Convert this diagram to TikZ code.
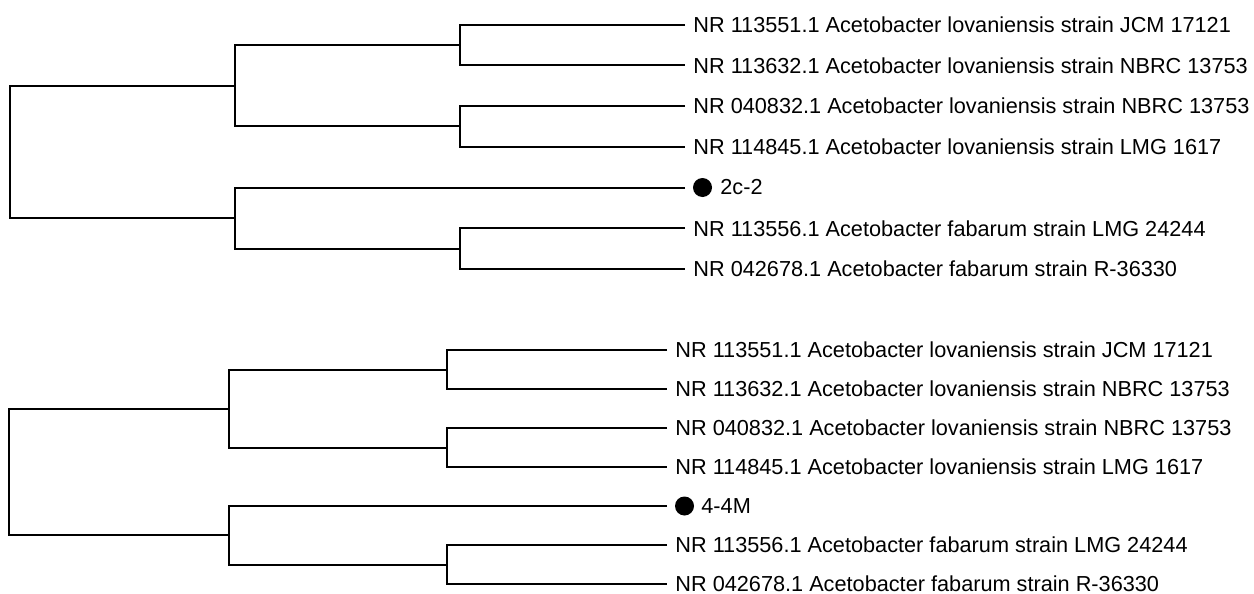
\documentclass[tikz,border=0pt]{standalone}
\usepackage{fontspec}
\setmainfont{Liberation Sans}
\begin{document}
\begin{tikzpicture}[x=0.5pt,y=-0.5pt,
  branch/.style={draw=black, line width=1pt, line join=miter},
  leaf/.style={anchor=west, inner xsep=4pt, inner ysep=0pt, font=\fontsize{10.85}{13}\selectfont},
  dotnode/.style={circle, fill=black, draw=none, minimum size=9.5pt, inner sep=0pt, outer sep=4pt, anchor=west},
  dotlabel/.style={anchor=west, inner sep=0pt, font=\fontsize{10.85}{13}\selectfont}]
\useasboundingbox (0,0) rectangle (1254,594);

% ---------- top tree ----------
\node[leaf] (t1) at (685,24.5) {NR 113551.1 Acetobacter lovaniensis strain JCM 17121};
\node[leaf] (t2) at (685,65.25) {NR 113632.1 Acetobacter lovaniensis strain NBRC 13753};
\node[leaf] (t3) at (685,106) {NR 040832.1 Acetobacter lovaniensis strain NBRC 13753};
\node[leaf] (t4) at (685,146.75) {NR 114845.1 Acetobacter lovaniensis strain LMG 1617};
\node[dotnode] (t5) at (685,187.5) {};
\node[dotlabel] (t5l) at (720,187.5) {2c-2};
\node[leaf] (t6) at (685,228.25) {NR 113556.1 Acetobacter fabarum strain LMG 24244};
\node[leaf] (t7) at (685,269) {NR 042678.1 Acetobacter fabarum strain R-36330};

\coordinate (tp1) at (460,44.875);
\coordinate (tp2) at (460,126.375);
\coordinate (tp3) at (460,248.625);
\coordinate (tc1) at (235,85.625);
\coordinate (tc2) at (235,218.0625);
\coordinate (tr) at (10,151.84);

\draw[branch] (t1.west) -| (tp1) |- (t2.west);
\draw[branch] (t3.west) -| (tp2) |- (t4.west);
\draw[branch] (t6.west) -| (tp3) |- (t7.west);
\draw[branch] (tp1) -| (tc1) |- (tp2);
\draw[branch] (t5.west) -| (tc2) |- (tp3);
\draw[branch] (tc1) -| (tr) |- (tc2);

% ---------- bottom tree ----------
\node[leaf] (b1) at (667,350) {NR 113551.1 Acetobacter lovaniensis strain JCM 17121};
\node[leaf] (b2) at (667,389) {NR 113632.1 Acetobacter lovaniensis strain NBRC 13753};
\node[leaf] (b3) at (667,428) {NR 040832.1 Acetobacter lovaniensis strain NBRC 13753};
\node[leaf] (b4) at (667,467) {NR 114845.1 Acetobacter lovaniensis strain LMG 1617};
\node[dotnode] (b5) at (667,506) {};
\node[dotlabel] (b5l) at (701,506) {4-4M};
\node[leaf] (b6) at (667,545) {NR 113556.1 Acetobacter fabarum strain LMG 24244};
\node[leaf] (b7) at (667,584) {NR 042678.1 Acetobacter fabarum strain R-36330};

\coordinate (bp1) at (447,369.5);
\coordinate (bp2) at (447,447.5);
\coordinate (bp3) at (447,564.5);
\coordinate (bc1) at (229,408.5);
\coordinate (bc2) at (229,535.25);
\coordinate (br) at (9,471.9);

\draw[branch] (b1.west) -| (bp1) |- (b2.west);
\draw[branch] (b3.west) -| (bp2) |- (b4.west);
\draw[branch] (b6.west) -| (bp3) |- (b7.west);
\draw[branch] (bp1) -| (bc1) |- (bp2);
\draw[branch] (b5.west) -| (bc2) |- (bp3);
\draw[branch] (bc1) -| (br) |- (bc2);
\end{tikzpicture}
\end{document}
